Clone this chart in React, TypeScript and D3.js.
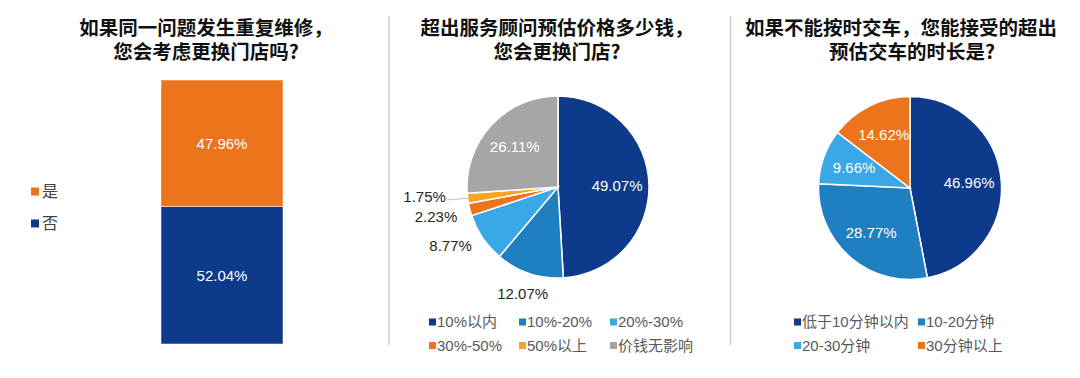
import React from "react";
import * as d3 from "d3";

const W = 1080;
const H = 378;

// Panel 1: stacked bar
const barSeries = ["否", "是"];
const barValues = [52.04, 47.96];
const barColors = ["#0D3A8A", "#EC741C"];
const barTitle = ["如果同一问题发生重复维修，", "您会考虑更换门店吗?"];

// Panel 2: pie
const pie2Labels = ["10%以内", "10%-20%", "20%-30%", "30%-50%", "50%以上", "价钱无影响"];
const pie2Values = [49.07, 12.07, 8.77, 2.23, 1.75, 26.11];
const pie2Colors = ["#0D3A8A", "#1F7FC0", "#3AA8E6", "#EC741C", "#F5A520", "#A6A6A6"];
const pie2Inside = [true, false, false, false, false, true];
const pie2Title = ["超出服务顾问预估价格多少钱，", "您会更换门店?"];

// Panel 3: pie
const pie3Labels = ["低于10分钟以内", "10-20分钟", "20-30分钟", "30分钟以上"];
const pie3Values = [46.96, 28.77, 9.66, 14.62];
const pie3Colors = ["#0D3A8A", "#1F7FC0", "#3AA8E6", "#EC741C"];
const pie3Title = ["如果不能按时交车，您能接受的超出", "预估交车的时长是?"];

const FONT = "'Liberation Sans', Arial, 'Noto Sans CJK SC', sans-serif";
const TFONT = "'Noto Sans CJK SC', 'Liberation Sans', sans-serif";
const fmt = (v: number) => v.toFixed(2) + "%";

function Title({ lines, xs }: { lines: string[]; xs: number[] }) {
  return (
    <g>
      {lines.map((l, i) => (
        <text
          key={i}
          x={xs[i]}
          y={26 + i * 24}
          dominantBaseline="central"
          textAnchor="middle"
          fontFamily={TFONT}
          fontWeight={700}
          fontSize={19.5}
          fill="#111"
        >
          {l}
        </text>
      ))}
    </g>
  );
}

type OutLabel = { i: number; x: number; y: number; s: number; c: number; anchor: string; leader: boolean };

function Pie({
  cx, cy, r, values, colors, inside, labelR,
}: {
  cx: number; cy: number; r: number; values: number[]; colors: string[]; inside: boolean[]; labelR: number;
}) {
  const arcs = d3.pie<number>().sort(null).value((d) => d)(values);
  const arcGen = d3.arc<d3.PieArcDatum<number>>().innerRadius(0).outerRadius(r);
  const labelArc = d3.arc<d3.PieArcDatum<number>>().innerRadius(r * labelR).outerRadius(r * labelR);

  // outside labels with simple vertical collision resolution
  const outs: OutLabel[] = [];
  arcs.forEach((a, i) => {
    if (inside[i]) return;
    const mid = (a.startAngle + a.endAngle) / 2;
    const s = Math.sin(mid);
    const c = -Math.cos(mid);
    const leader = values[i] < 2;
    const anchor = Math.abs(s) < 0.5 ? "middle" : s < 0 ? "end" : "start";
    const rr = leader ? r + 22 : anchor === "middle" ? r + 21 : r + 13;
    outs.push({ i, x: s * rr, y: c * rr, s, c, anchor, leader });
  });
  const left = outs.filter((o) => o.anchor === "end").sort((a, b) => a.y - b.y);
  const gap = 20;
  for (let iter = 0; iter < 20; iter++) {
    for (let k = 1; k < left.length; k++) {
      const d = left[k].y - left[k - 1].y;
      if (d < gap) {
        const push = (gap - d) / 2;
        left[k].y += push;
        left[k - 1].y -= push;
      }
    }
  }

  return (
    <g transform={`translate(${cx},${cy})`}>
      {arcs.map((a, i) => (
        <path key={i} d={arcGen(a) || ""} fill={colors[i]} stroke="#fff" strokeWidth={1.5} />
      ))}
      {arcs.map((a, i) => {
        if (!inside[i]) return null;
        const [x, y] = labelArc.centroid(a);
        return (
          <text key={"l" + i} x={x} y={y} dy="0.35em" textAnchor="middle" fontFamily={FONT} fontSize={15} fill="#fff">
            {fmt(values[i])}
          </text>
        );
      })}
      {outs.map((o) => (
        <g key={"o" + o.i}>
          {o.leader && (
            <line x1={o.s * r} y1={o.c * r} x2={o.x + 2} y2={o.y + 3} stroke="#bfbfbf" strokeWidth={1} />
          )}
          <text x={o.x} y={o.y} dy="0.35em" textAnchor={o.anchor} fontFamily={FONT} fontSize={15} fill="#262626">
            {fmt(values[o.i])}
          </text>
        </g>
      ))}
    </g>
  );
}

function Legend({
  labels, colors, x0, colXs, y0, rowH, cols,
}: {
  labels: string[]; colors: string[]; x0: number; colXs: number[]; y0: number; rowH: number; cols: number;
}) {
  return (
    <g>
      {labels.map((l, i) => {
        const col = i % cols;
        const row = Math.floor(i / cols);
        const x = x0 + colXs[col];
        const y = y0 + row * rowH;
        return (
          <g key={i}>
            <rect x={x} y={y - 3.5} width={7} height={7} fill={colors[i]} />
            <text x={x + 8} y={y} dy="0.36em" fontFamily={FONT} fontSize={15} fill="#595959">
              {l}
            </text>
          </g>
        );
      })}
    </g>
  );
}

export default function App() {
  // Bar panel
  const xBand = d3.scaleBand<string>().domain(["all"]).range([161, 283]).padding(0);
  const yScale = d3.scaleLinear().domain([0, 100]).range([344, 80]);
  let acc = 0;
  const stacks = barValues.map((v, i) => {
    const y0 = acc;
    acc += v;
    return { y0, y1: acc, v, color: barColors[i], name: barSeries[i] };
  });

  return (
    <svg width={W} height={H} style={{ position: "absolute", left: 0, top: 0, background: "#fff" }}>
      <rect width={W} height={H} fill="#fff" />
      {/* dividers */}
      <line x1={389} y1={16} x2={389} y2={345} stroke="#cfcfcf" strokeWidth={1.5} />
      <line x1={730.5} y1={16} x2={730.5} y2={345} stroke="#cfcfcf" strokeWidth={1.5} />

      {/* Panel 1 */}
      <Title lines={barTitle} xs={[206, 206]} />
      {stacks.map((s, i) => (
        <g key={i}>
          <rect
            x={xBand("all")}
            y={yScale(s.y1)}
            width={xBand.bandwidth()}
            height={yScale(s.y0) - yScale(s.y1)}
            fill={s.color}
            stroke="#fff"
            strokeWidth={0.5}
          />
          <text
            x={(xBand("all") || 0) + xBand.bandwidth() / 2}
            y={(yScale(s.y0) + yScale(s.y1)) / 2}
            dy="0.35em"
            textAnchor="middle"
            fontFamily={FONT}
            fontSize={15}
            fill="#fff"
          >
            {fmt(s.v)}
          </text>
        </g>
      ))}
      {[1, 0].map((idx, row) => (
        <g key={idx}>
          <rect x={31} y={187.5 + row * 32} width={8} height={8} fill={barColors[idx]} />
          <text x={42} y={191.5 + row * 32} dy="0.36em" fontFamily={FONT} fontSize={16} fill="#404040">
            {barSeries[idx]}
          </text>
        </g>
      ))}

      {/* Panel 2 */}
      <Title lines={pie2Title} xs={[557, 557]} />
      <Pie cx={558} cy={187} r={91} values={pie2Values} colors={pie2Colors} inside={pie2Inside} labelR={0.65} />
      <Legend labels={pie2Labels} colors={pie2Colors} x0={429} colXs={[0, 90, 181]} y0={322} rowH={23.5} cols={3} />

      {/* Panel 3 */}
      <Title lines={pie3Title} xs={[901, 912]} />
      <Pie cx={910} cy={188} r={91.5} values={pie3Values} colors={pie3Colors} inside={[true, true, true, true]} labelR={0.65} />
      <Legend labels={pie3Labels} colors={pie3Colors} x0={794} colXs={[0, 124]} y0={322} rowH={23.5} cols={2} />
    </svg>
  );
}
